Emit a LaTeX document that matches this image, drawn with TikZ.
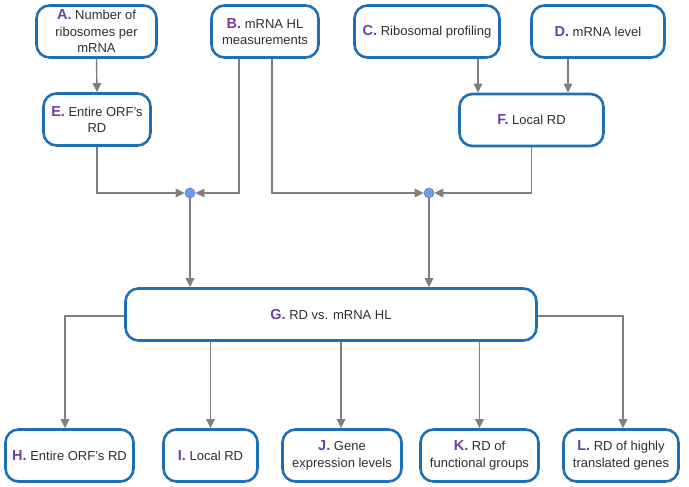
\documentclass[tikz,border=0pt]{standalone}
\usepackage{fontspec}
\setmainfont{Liberation Sans}
\usetikzlibrary{arrows.meta}
\definecolor{boxblue}{HTML}{1F6FB5}
\definecolor{lblpurple}{HTML}{7040A0}
\definecolor{linegray}{HTML}{7F7F7F}
\definecolor{txt}{HTML}{2E2E2E}
\definecolor{dotfill}{HTML}{6D9EEB}
\newcommand{\lb}[1]{{\fontsize{14.5}{16}\selectfont\bfseries\color{lblpurple}#1}}
\tikzset{
  box/.style={draw=boxblue, line width=2.6pt, rounded corners=13pt, fill=white,
    minimum height=52pt, align=center, text=txt, inner sep=2pt,
    font=\fontsize{13}{16.5}\selectfont},
  conn/.style={draw=linegray, line width=1.4pt, -{Triangle[length=9pt,width=8.5pt]}},
  jdot/.style={circle, fill=dotfill, draw=boxblue!80, line width=0.6pt, minimum size=10pt, inner sep=0pt}
}
\begin{document}
\begin{tikzpicture}[x=1pt,y=-1pt]
\useasboundingbox (0,0) rectangle (689,487);
\node[box, minimum width=120pt] (A) at (96.5,31.5) {\lb{A.} Number of\\ribosomes per\\mRNA};
\node[box, minimum width=107pt] (B) at (265,31.5) {\lb{B.} mRNA HL\\measurements};
\node[box, minimum width=145pt] (C) at (427,31.5) {\lb{C.} Ribosomal profiling};
\node[box, minimum width=133pt] (D) at (598,31.5) {\lb{D.} mRNA level};
\node[box, minimum width=107pt] (E) at (97,119.5) {\lb{E.} Entire ORF's\\RD};
\node[box, minimum width=144pt] (F) at (531.5,120) {\lb{F.} Local RD};
\node[jdot] (d1) at (190,193) {};
\node[jdot] (d2) at (429,193) {};
\node[box, minimum width=411pt] (G) at (331,314.5) {\lb{G.} RD vs. mRNA HL};
\node[box, minimum width=128pt] (H) at (69.5,455.5) {\lb{H.} Entire ORF's RD};
\node[box, minimum width=94pt] (I) at (210.5,455.5) {\lb{I.} Local RD};
\node[box, minimum width=119pt] (J) at (342,455.5) {\lb{J.} Gene\\expression levels};
\node[box, minimum width=118pt] (K) at (479.5,455.5) {\lb{K.} RD of\\functional groups};
\node[box, minimum width=115pt] (L) at (621,455.5) {\lb{L.} RD of highly\\translated genes};
% top inputs
\draw[conn] (A.south) -- (E.north);
\draw[conn] ([xshift=51pt]C.south) -- ([xshift=-53.5pt]F.north);
\draw[conn] ([xshift=-30pt]D.south) -- ([xshift=36.5pt]F.north);
\draw[conn] (E.south) |- (d1.west);
\draw[conn] ([xshift=-26pt]B.south) |- (d1.east);
\draw[conn] ([xshift=7pt]B.south) |- (d2.west);
\draw[conn] (F.south) |- (d2.east);
% to G
\draw[conn] (d1.south) -- (d1.south |- G.north);
\draw[conn] (d2.south) -- (d2.south |- G.north);
% outputs
\draw[conn] ([yshift=-1.5pt]G.west) -| ([xshift=-4.5pt]H.north);
\draw[conn] (I.north |- G.south) -- (I.north);
\draw[conn] ([xshift=-1pt]J.north |- G.south) -- ([xshift=-1pt]J.north);
\draw[conn] (K.north |- G.south) -- (K.north);
\draw[conn] ([yshift=-1.5pt]G.east) -| ([xshift=2pt]L.north);
\end{tikzpicture}
\end{document}
